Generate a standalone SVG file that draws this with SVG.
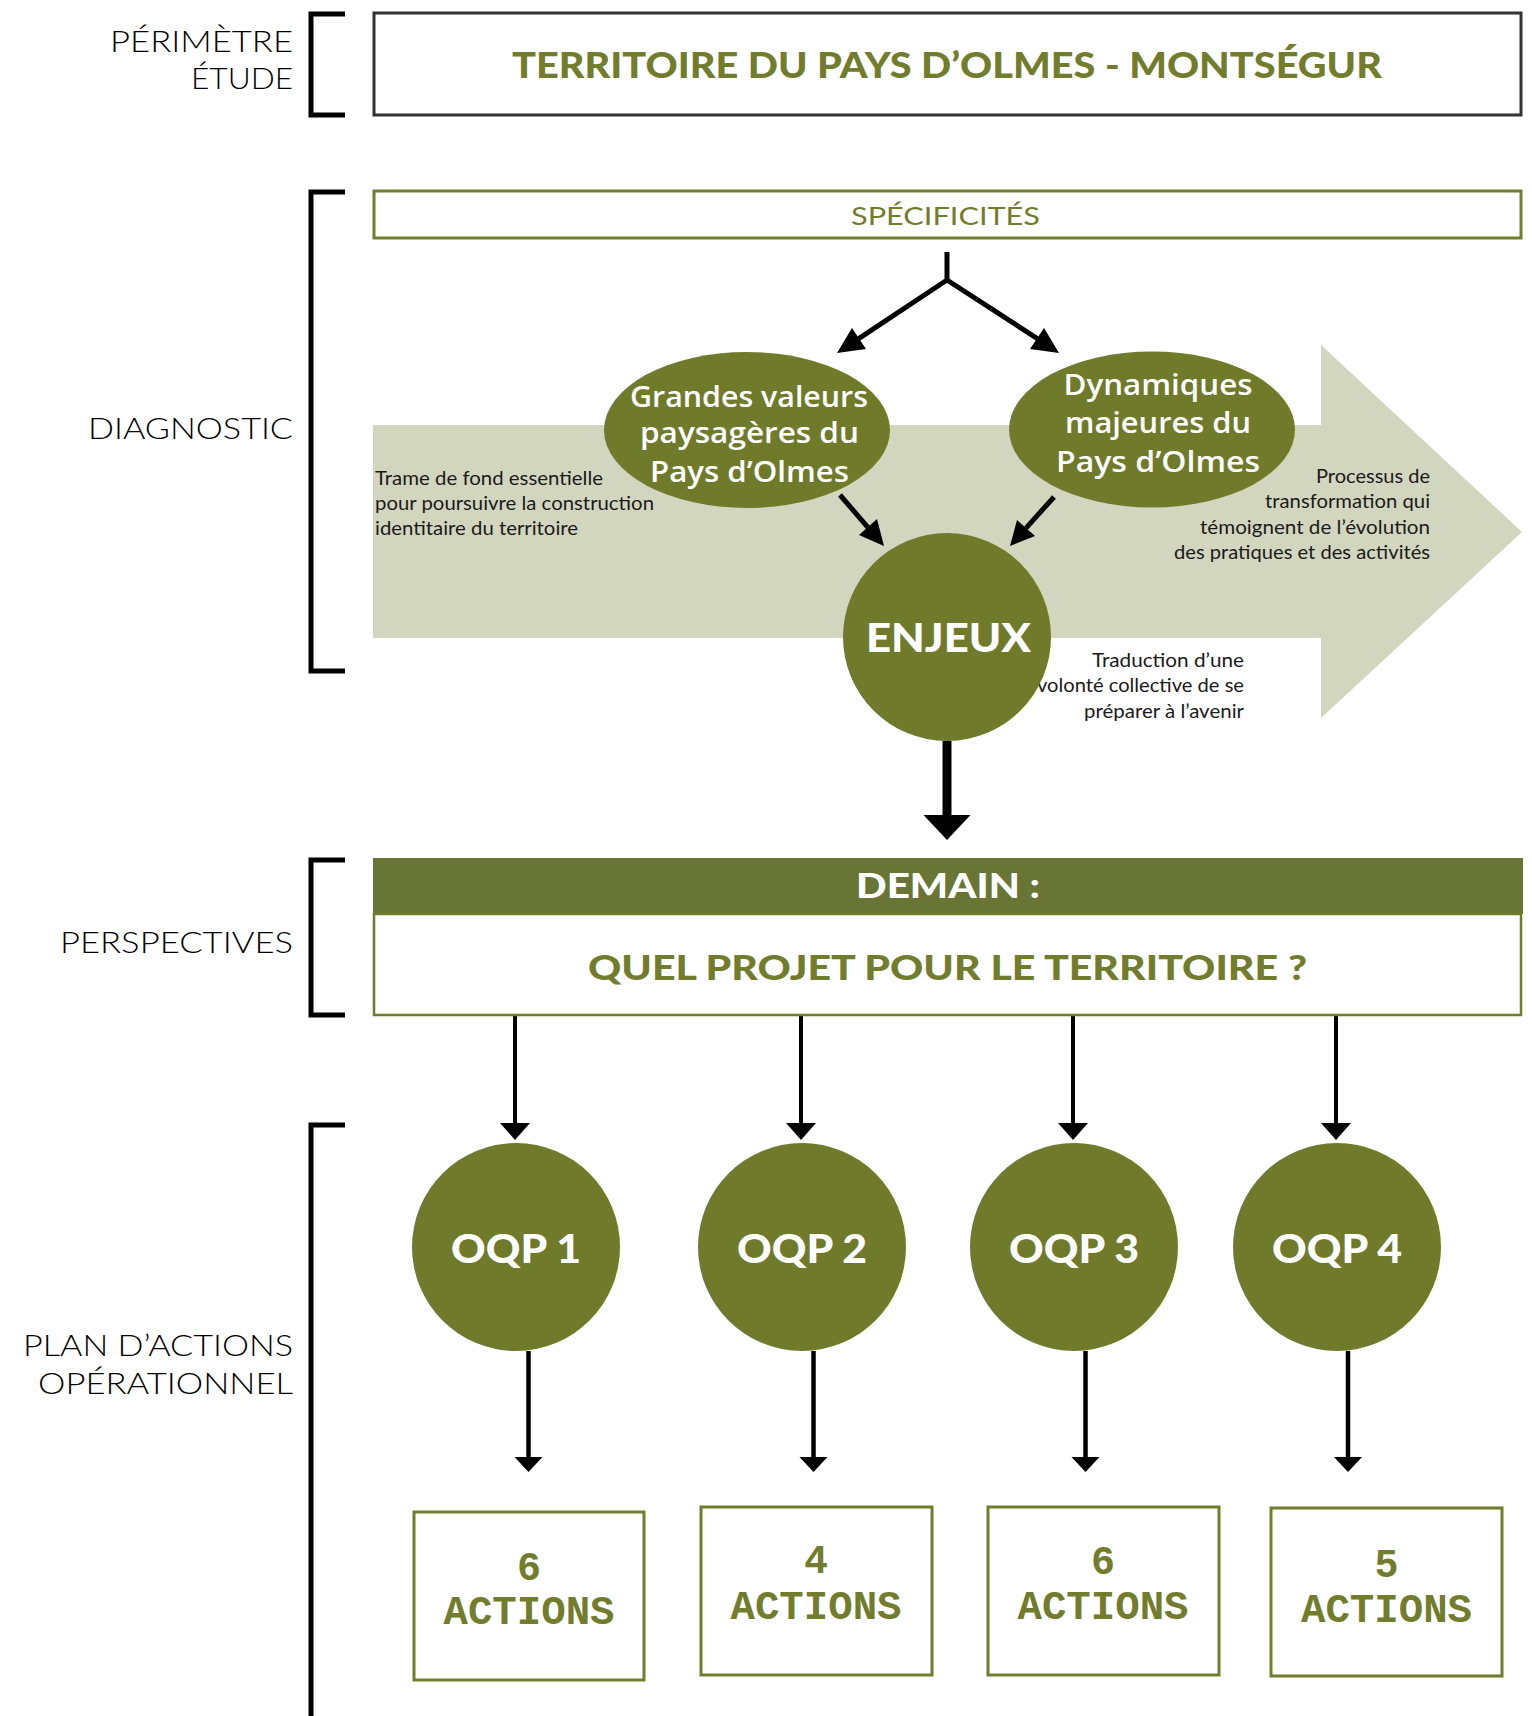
<svg xmlns="http://www.w3.org/2000/svg" width="1532" height="1716" viewBox="0 0 1532 1716">
<style>
.lbl{font-family:Lato,"Liberation Sans",Arial,sans-serif;font-weight:300;font-size:30px;fill:#000;text-anchor:end}
.br{fill:none;stroke:#000;stroke-width:5}
.hd{font-family:Lato,"Liberation Sans",Arial,sans-serif;font-weight:900;text-anchor:middle}
.ol{fill:#6f7a2b}
.olt{fill:#717d2c}
.wt{fill:#fff}
.ell{font-family:"Open Sans","Noto Sans",sans-serif;font-weight:600;font-size:28px;fill:#fff;text-anchor:middle}
.big{font-family:Lato,"Open Sans",sans-serif;font-weight:900;font-size:40px;fill:#fff;text-anchor:middle}
.body{font-family:Lato,"Open Sans",sans-serif;font-size:20px;fill:#1a1a1a}
.act{font-family:"Liberation Mono","Courier New",monospace;font-weight:700;font-size:40px;fill:#717d2c;text-anchor:middle}
.abox{fill:#fff;stroke:#717d2c;stroke-width:3}
.cn{stroke:#000;fill:none}
.ah{fill:#000}
</style>

<g id="labels">
  <text class="lbl" x="293" y="52" textLength="183" lengthAdjust="spacingAndGlyphs">PÉRIMÈTRE</text>
  <text class="lbl" x="293" y="89" textLength="102" lengthAdjust="spacingAndGlyphs">ÉTUDE</text>
  <text class="lbl" x="293" y="439" textLength="205" lengthAdjust="spacingAndGlyphs">DIAGNOSTIC</text>
  <text class="lbl" x="293" y="953" textLength="233" lengthAdjust="spacingAndGlyphs">PERSPECTIVES</text>
  <text class="lbl" x="293" y="1356" textLength="270" lengthAdjust="spacingAndGlyphs">PLAN D’ACTIONS</text>
  <text class="lbl" x="293" y="1394" textLength="255" lengthAdjust="spacingAndGlyphs">OPÉRATIONNEL</text>
</g>

<g id="brackets">
  <path class="br" d="M345,14 H311 V115 H345"/>
  <path class="br" d="M345,192 H311 V671 H345"/>
  <path class="br" d="M345,860 H311 V1015 H345"/>
  <path class="br" d="M345,1125 H311 V1716"/>
</g>

<g id="perimetre">
  <rect x="374" y="13" width="1147" height="102" fill="#fff" stroke="#333" stroke-width="3"/>
  <text class="hd olt" x="947" y="78" font-size="36" textLength="870" lengthAdjust="spacingAndGlyphs">TERRITOIRE DU PAYS D’OLMES - MONTSÉGUR</text>
</g>

<g id="specificites">
  <rect x="374" y="191" width="1147" height="47" fill="#fff" stroke="#717d2c" stroke-width="3"/>
  <text x="945.5" y="225" font-family="Lato,'Liberation Sans',sans-serif" font-size="25" fill="#717d2c" text-anchor="middle" textLength="189" lengthAdjust="spacingAndGlyphs">SPÉCIFICITÉS</text>
</g>

<g id="trame-arrow">
  <polygon points="373,425 1321,425 1321,345 1522,532 1321,718 1321,638 373,638" fill="#d3d6be"/>
  <text class="body" x="375" y="485" textLength="228" lengthAdjust="spacingAndGlyphs">Trame de fond essentielle</text>
  <text class="body" x="375" y="510" textLength="279" lengthAdjust="spacingAndGlyphs">pour poursuivre la construction</text>
  <text class="body" x="375" y="535" textLength="203" lengthAdjust="spacingAndGlyphs">identitaire du territoire</text>
  <text class="body" x="1430" y="483" text-anchor="end" textLength="114" lengthAdjust="spacingAndGlyphs">Processus de</text>
  <text class="body" x="1430" y="508" text-anchor="end" textLength="165" lengthAdjust="spacingAndGlyphs">transformation qui</text>
  <text class="body" x="1430" y="534" text-anchor="end" textLength="230" lengthAdjust="spacingAndGlyphs">témoignent de l’évolution</text>
  <text class="body" x="1430" y="559" text-anchor="end" textLength="256" lengthAdjust="spacingAndGlyphs">des pratiques et des activités</text>
  <text class="body" x="1244" y="667" text-anchor="end" textLength="152" lengthAdjust="spacingAndGlyphs">Traduction d’une</text>
  <text class="body" x="1244" y="692" text-anchor="end" textLength="207" lengthAdjust="spacingAndGlyphs">volonté collective de se</text>
  <text class="body" x="1244" y="718" text-anchor="end" textLength="160" lengthAdjust="spacingAndGlyphs">préparer à l’avenir</text>
</g>

<g id="connectors">
  <path class="cn" stroke-width="5" d="M947,252 V280 L858.7,338.6 M947,280 L1037.3,338.6"/>
  <polygon class="ah" points="837,353 852,328 866,349"/>
  <polygon class="ah" points="1059,353 1044,328 1030,349"/>
  <path class="cn" stroke-width="5" d="M840,495 L868.3,527.8 M1054,497 L1026,528.1"/>
  <polygon class="ah" points="884,546 859,535 877,519"/>
  <polygon class="ah" points="1010,546 1035,536 1017,520"/>
  <path class="cn" stroke-width="9" d="M947,741 V816"/>
  <polygon class="ah" points="923.5,815 970.5,815 947,840"/>
  <path class="cn" stroke-width="4" d="M515,1015 V1124 M801,1015 V1124 M1073,1015 V1124 M1336,1015 V1124"/>
  <polygon class="ah" points="500,1123 530,1123 515,1140"/>
  <polygon class="ah" points="786,1123 816,1123 801,1140"/>
  <polygon class="ah" points="1058,1123 1088,1123 1073,1140"/>
  <polygon class="ah" points="1321,1123 1351,1123 1336,1140"/>
  <path class="cn" stroke-width="4.5" d="M528.5,1351 V1458 M813.5,1351 V1458 M1085.5,1351 V1458 M1348,1351 V1458"/>
  <polygon class="ah" points="514.5,1457 542.5,1457 528.5,1472"/>
  <polygon class="ah" points="799.5,1457 827.5,1457 813.5,1472"/>
  <polygon class="ah" points="1071.5,1457 1099.5,1457 1085.5,1472"/>
  <polygon class="ah" points="1334,1457 1362,1457 1348,1472"/>
</g>

<g id="valeurs">
  <ellipse class="ol" cx="747" cy="430" rx="143" ry="78"/>
  <text class="ell" x="749" y="407" textLength="238" lengthAdjust="spacingAndGlyphs">Grandes valeurs</text>
  <text class="ell" x="749.5" y="443" textLength="219" lengthAdjust="spacingAndGlyphs">paysagères du</text>
  <text class="ell" x="749.5" y="482" textLength="199" lengthAdjust="spacingAndGlyphs">Pays d’Olmes</text>
</g>

<g id="dynamiques">
  <ellipse class="ol" cx="1152" cy="429.5" rx="143" ry="78"/>
  <text class="ell" x="1158" y="395" textLength="189" lengthAdjust="spacingAndGlyphs">Dynamiques</text>
  <text class="ell" x="1158" y="433" textLength="186" lengthAdjust="spacingAndGlyphs">majeures du</text>
  <text class="ell" x="1158" y="472" textLength="204" lengthAdjust="spacingAndGlyphs">Pays d’Olmes</text>
</g>

<g id="enjeux">
  <circle class="ol" cx="947" cy="637" r="104"/>
  <text class="big" x="948.5" y="652" textLength="165" lengthAdjust="spacingAndGlyphs">ENJEUX</text>
</g>

<g id="demain">
  <rect x="373" y="858" width="1150" height="56" fill="#687534"/>
  <text class="hd wt" x="948" y="898" font-size="34" textLength="184" lengthAdjust="spacingAndGlyphs">DEMAIN :</text>
  <rect x="374" y="914" width="1147" height="101" fill="#fff" stroke="#6f7a2b" stroke-width="2.5"/>
  <text class="hd olt" x="947.5" y="980" font-size="34" textLength="719" lengthAdjust="spacingAndGlyphs">QUEL PROJET POUR LE TERRITOIRE ?</text>
</g>

<g id="oqp1">
  <circle class="ol" cx="516" cy="1247" r="104"/>
  <text class="big" x="516" y="1263" textLength="130" lengthAdjust="spacingAndGlyphs">OQP 1</text>
</g>
<g id="oqp2">
  <circle class="ol" cx="802" cy="1247" r="104"/>
  <text class="big" x="802" y="1263" textLength="130" lengthAdjust="spacingAndGlyphs">OQP 2</text>
</g>
<g id="oqp3">
  <circle class="ol" cx="1074" cy="1247" r="104"/>
  <text class="big" x="1074" y="1263" textLength="130" lengthAdjust="spacingAndGlyphs">OQP 3</text>
</g>
<g id="oqp4">
  <circle class="ol" cx="1337" cy="1247" r="104"/>
  <text class="big" x="1337" y="1263" textLength="130" lengthAdjust="spacingAndGlyphs">OQP 4</text>
</g>

<g id="actions1">
  <rect class="abox" x="414" y="1512" width="230" height="168"/>
  <text class="act" x="529" y="1580">6</text>
  <text class="act" x="529" y="1624" textLength="171" lengthAdjust="spacingAndGlyphs">ACTIONS</text>
</g>
<g id="actions2">
  <rect class="abox" x="701" y="1507" width="231" height="168"/>
  <text class="act" x="816" y="1573">4</text>
  <text class="act" x="816" y="1619" textLength="171" lengthAdjust="spacingAndGlyphs">ACTIONS</text>
</g>
<g id="actions3">
  <rect class="abox" x="988" y="1507" width="231" height="168"/>
  <text class="act" x="1103" y="1574">6</text>
  <text class="act" x="1103" y="1619" textLength="171" lengthAdjust="spacingAndGlyphs">ACTIONS</text>
</g>
<g id="actions4">
  <rect class="abox" x="1271" y="1508" width="231" height="168"/>
  <text class="act" x="1386.5" y="1577">5</text>
  <text class="act" x="1386.5" y="1622" textLength="171" lengthAdjust="spacingAndGlyphs">ACTIONS</text>
</g>
</svg>
